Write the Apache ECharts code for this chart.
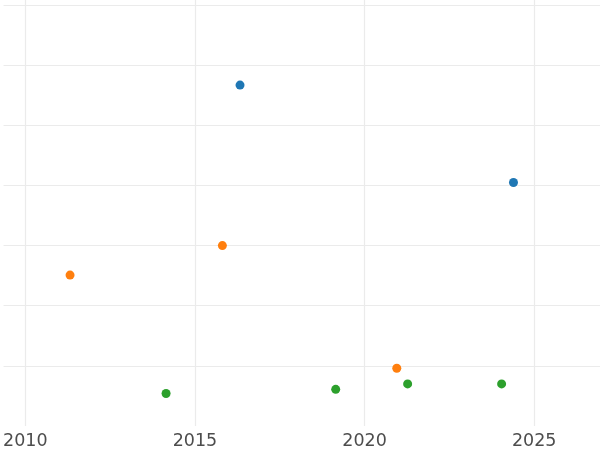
<!DOCTYPE html>
<html>
<head>
<meta charset="utf-8">
<script src="https://cdn.jsdelivr.net/npm/echarts@6/dist/echarts.min.js"></script>
<style>
  html, body { margin: 0; padding: 0; background: #fff; }
  #chart { width: 600px; height: 450px; }
</style>
</head>
<body>
<div id="chart"></div>
<script>
// points: [year, value]
const blueYears = [2016.33, 2024.39];
const blueValues = [5.67, 4.05];
const orangeYears = [2011.32, 2015.81, 2020.95];
const orangeValues = [2.51, 3.0, 0.96];
const greenYears = [2014.15, 2019.15, 2021.27, 2024.04];
const greenValues = [0.54, 0.61, 0.70, 0.70];

const pair = (xs, ys) => xs.map((x, i) => [x, ys[i]]);

const chart = echarts.init(document.getElementById('chart'));

const option = {
  animation: false,
  grid: { left: 0, right: 0, top: 0, bottom: 23.3 },
  xAxis: {
    type: 'value',
    min: 2009.36,
    max: 2026.94,
    minInterval: 5,
    maxInterval: 5,
    axisLine: { show: false },
    axisTick: { show: false },
    axisLabel: {
      margin: 6,
      fontSize: 17.5,
      fontFamily: 'DejaVu Sans',
      color: '#4d4d4d',
      showMinLabel: false,
      showMaxLabel: false,
      formatter: v => String(v)
    },
    splitLine: { show: true, showMinLine: false, showMaxLine: false, lineStyle: { color: '#ebebeb', width: 1.2 } }
  },
  yAxis: {
    type: 'value',
    min: 0,
    max: 7.085,
    interval: 1,
    axisLine: { show: false },
    axisTick: { show: false },
    axisLabel: { show: false },
    splitLine: { show: true, showMinLine: false, showMaxLine: false, lineStyle: { color: '#ebebeb', width: 1.2 } }
  },
  series: [
    {
      name: 'blue',
      type: 'scatter',
      symbolSize: 9,
      itemStyle: { color: '#1f77b4', opacity: 1 },
      data: pair(blueYears, blueValues)
    },
    {
      name: 'orange',
      type: 'scatter',
      symbolSize: 9,
      itemStyle: { color: '#ff7f0e', opacity: 1 },
      data: pair(orangeYears, orangeValues)
    },
    {
      name: 'green',
      type: 'scatter',
      symbolSize: 9,
      itemStyle: { color: '#2ca02c', opacity: 1 },
      data: pair(greenYears, greenValues)
    }
  ]
};

chart.setOption(option);
</script>
</body>
</html>
